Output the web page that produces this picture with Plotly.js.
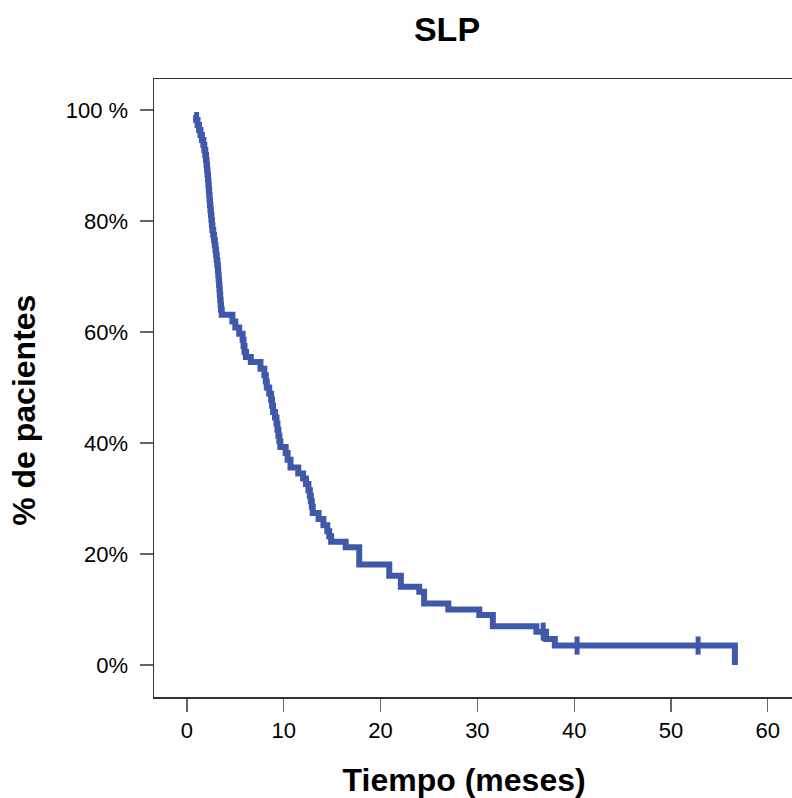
<!DOCTYPE html>
<html>
<head>
<meta charset="utf-8">
<script src="https://cdn.plot.ly/plotly-3.0.1.min.js"></script>
<style>
html,body{margin:0;padding:0;background:#fff;overflow:hidden;}
#chart{width:792px;height:798px;}
</style>
</head>
<body>
<div id="chart"></div>
<script>
// Kaplan-Meier step curve (months, % of patients)
const times = [0.75, 0.95, 1.1, 1.25, 1.4, 1.55, 1.7, 1.8, 1.9, 1.97, 2.03, 2.08, 2.13, 2.18, 2.22, 2.26, 2.3, 2.34, 2.38, 2.43, 2.48, 2.53, 2.58, 2.63, 2.72, 2.8, 2.88, 2.95, 3.02, 3.08, 3.14, 3.2, 3.24, 3.28, 3.32, 3.36, 3.4, 3.44, 3.48, 3.52, 3.6, 4.7, 5.0, 5.4, 5.75, 5.85, 5.95, 6.1, 6.6, 7.6, 8.0, 8.15, 8.25, 8.5, 8.7, 8.8, 8.9, 9.1, 9.25, 9.35, 9.45, 9.55, 9.65, 10.2, 10.4, 10.7, 11.5, 12.0, 12.3, 12.55, 12.7, 12.8, 12.9, 13.0, 13.6, 14.1, 14.5, 14.7, 14.9, 16.4, 17.8, 20.9, 22.1, 24.0, 24.5, 27.0, 30.2, 31.6, 36.1, 37.1, 38.0, 56.6];
const survival = [99.1, 98.2, 97.3, 96.4, 95.5, 94.6, 93.7, 92.8, 91.9, 91.0, 90.1, 89.2, 88.3, 87.4, 86.5, 85.6, 84.7, 83.8, 82.9, 82.0, 81.1, 80.2, 79.3, 78.4, 77.5, 76.6, 75.7, 74.8, 73.9, 73.0, 72.1, 71.2, 70.3, 69.4, 68.5, 67.6, 66.7, 65.8, 64.9, 64.0, 63.1, 61.9, 60.8, 59.7, 58.6, 57.5, 56.4, 55.5, 54.6, 53.4, 52.2, 51.1, 50.0, 48.9, 47.8, 46.7, 45.6, 44.6, 43.5, 42.4, 41.3, 40.3, 39.3, 38.2, 37.0, 35.6, 34.5, 33.6, 32.6, 31.5, 30.5, 29.5, 28.5, 27.4, 26.3, 25.2, 24.1, 23.2, 22.2, 21.2, 18.1, 16.1, 14.1, 13.2, 11.1, 10.0, 9.0, 7.0, 6.0, 4.7, 3.5, 0.0];

// Censored observations
const censorTimes = [36.8, 40.3, 52.8];
const censorSurv = [6.0, 3.5, 3.5];

// Axis ticks
const xTicks = [0, 10, 20, 30, 40, 50, 60];
const yTicks = [0, 20, 40, 60, 80, 100];
const yTickText = ["0%", "20%", "40%", "60%", "80%", "100 %"];

const lineColor = '#3F58A9';
const NB = '\u00a0';

const traces = [
  {
    x: times, y: survival, type: 'scatter', mode: 'lines',
    line: {shape: 'hv', color: lineColor, width: 6},
    hoverinfo: 'skip', showlegend: false
  },
  {
    x: censorTimes, y: censorSurv, type: 'scatter', mode: 'markers',
    marker: {symbol: 'line-ns', size: 13, color: lineColor, line: {color: lineColor, width: 5}},
    hoverinfo: 'skip', showlegend: false
  }
];

const font = 'Liberation Sans, Arial, sans-serif';

const layout = {
  width: 792, height: 798,
  margin: {l: 154, r: 0, t: 79, b: 101, pad: 0},
  paper_bgcolor: '#fff', plot_bgcolor: '#fff',
  font: {family: font, color: '#000', size: 22},
  title: {
    text: '<b>SLP</b>', font: {family: font, size: 34, color: '#000'},
    x: 447/792, xref: 'container', xanchor: 'center',
    y: 1 - 29/798, yref: 'container', yanchor: 'middle'
  },
  xaxis: {
    range: [-3.4, 62.5], tickvals: xTicks, ticktext: xTicks.map(String),
    ticks: 'outside', ticklen: 13, tickwidth: 1.2, tickcolor: '#666',
    showgrid: false, zeroline: false,
    showline: true, linecolor: '#333', linewidth: 1.5, mirror: true,
    tickfont: {family: font, size: 22, color: '#000'},
    title: {text: '<b>Tiempo (meses)' + NB + NB + '</b>', font: {family: font, size: 32, color: '#000'}, standoff: 30}
  },
  yaxis: {
    range: [-5.77, 105.6], tickvals: yTicks, ticktext: yTickText,
    ticks: 'outside', ticklen: 13, tickwidth: 1.2, tickcolor: '#666',
    ticklabelstandoff: 7,
    showgrid: false, zeroline: false,
    showline: true, linecolor: '#333', linewidth: 1.5, mirror: false,
    tickfont: {family: font, size: 22, color: '#000'},
    title: {text: '<b>% de pacientes' + NB + NB + NB + NB + NB + '</b>', font: {family: font, size: 32, color: '#000'}, standoff: 20}
  }
};

Plotly.newPlot('chart', traces, layout, {staticPlot: true, displayModeBar: false});
</script>
</body>
</html>
